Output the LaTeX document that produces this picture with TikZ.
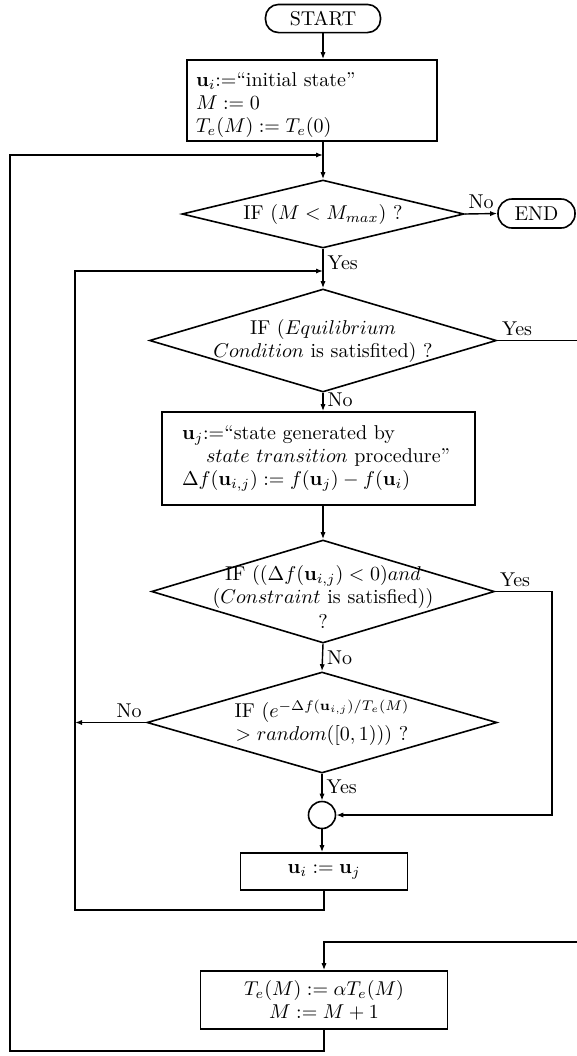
\documentclass[tikz,border=0pt]{standalone}
\usepackage{tikz}
\usetikzlibrary{arrows.meta,shapes.geometric}

\begin{document}
\begin{tikzpicture}[x=0.5pt, y=-0.5pt,
    every node/.style={font=\fontsize{10}{11.5}\selectfont},
    box/.style={draw, rectangle, line width=0.8pt},
    term/.style={draw, rectangle, rounded corners=6.5pt, line width=0.8pt, minimum height=13.5pt},
    test/.style={draw, diamond, aspect=3.4, inner sep=-8pt, align=center, line width=0.8pt},
    lbl/.style={inner sep=2pt},
    flow/.style={line width=0.7pt},
    >={Latex[length=3.5pt,width=2.6pt]}]
  \useasboundingbox (0,0) rectangle (577,1056);
  % steps
  \node[term, minimum width=57.5pt] (start) at (323,18.5) {START};
  \node[box, align=left, text width=116pt, inner xsep=4.5pt, inner ysep=1.2pt, minimum height=40.5pt] (init) at (312,100.5)
    {\rule{0pt}{11.5pt}$\mathbf{u}_i{:=}$``initial state''\\ $M := 0$\\ $T_e(M) := T_e(0)$};
  \node[test, minimum width=141pt, minimum height=34pt] (d1) at (323,214) {IF ($M < M_{max}$) ?};
  \node[term, minimum width=38.5pt, minimum height=14.5pt, rounded corners=7pt] (end) at (536.5,213.5) {END};
  \node[test, minimum width=173.5pt, minimum height=51.5pt] (d2) at (323,340.5)
    {IF ($Equilibrium$\\ $Condition$ is satisfited) ?};
  \node[box, align=left, text width=136.5pt, inner xsep=10pt, minimum height=46.5pt] (gen) at (318.5,458.5)
    {$\mathbf{u}_j{:=}$``state generated by\\ \hspace*{12pt}$state\ transition$ procedure''\\
     $\Delta f(\mathbf{u}_{i,j}) := f(\mathbf{u}_j) - f(\mathbf{u}_i)$};
  \node[test, minimum width=171.5pt, minimum height=51.5pt] (d3) at (323,591.5)
    {\rule{0pt}{12.5pt}IF (($\Delta f(\mathbf{u}_{i,j}) < 0$)$and$\\ ($Constraint$ is satisfied))\\[1pt] ?};
  \node[test, minimum width=175pt, minimum height=50.5pt] (d4) at (322,722.5)
    {IF ($e^{-\Delta f(\mathbf{u}_{i,j})/T_e(M)}$\\ $> random([0,1))$) ?};
  \node[draw, circle, minimum size=13.5pt, inner sep=0pt, line width=0.8pt] (join) at (322,815) {};
  \node[box, minimum width=83.5pt, minimum height=18.5pt] (upd) at (324,871.5) {$\mathbf{u}_i := \mathbf{u}_j$};
  \node[box, align=center, minimum width=123.5pt, minimum height=29pt] (cool) at (324,1000)
    {$T_e(M) := \alpha T_e(M)$\\ $M := M+1$};
  % helper points
  \coordinate (j1) at (323,155);
  \coordinate (j2) at (323,271);
  \coordinate (ox) at (10,0);
  \coordinate (lx) at (75,0);
  \coordinate (rr) at (552,0);
  \coordinate (rx) at (600,0);
  \coordinate (entry) at (324,942);
  % main line
  \draw[flow,->] (start) -- (start |- init.north);
  \draw[flow,->] (init.south -| d1) -- (d1.north);
  \draw[flow,->] (d1.east) -- node[lbl, above] {No} (end.west);
  \draw[flow,->] (d1.south) -- node[lbl, right, pos=0.35] {Yes} (d2.north);
  \draw[flow,->] (d2.south) -- node[lbl, right, pos=0.4] {No} (d2.south |- gen.north);
  \draw[flow,->] (d2.south |- gen.south) -- (d3.north);
  \draw[flow,->] (d3.south) -- node[lbl, right] {No} (d4.north);
  \draw[flow,->] (d4.south) -- node[lbl, right] {Yes} (join.north);
  \draw[flow,->] (join.south) -- (join.south |- upd.north);
  % branches
  \draw[flow,->] (d2.east) -- node[lbl, above right, pos=0] {Yes} (d2.east -| rx) |- (entry) -- (cool.north);
  \draw[flow,->] (d3.east) -- node[lbl, above right, pos=0] {Yes} (d3.east -| rr) |- (join.east);
  \draw[flow,->] (d4.west) -- node[lbl, above left, pos=0] {No} (d4.west -| lx);
  % loops
  \draw[flow,->] (upd.south) -- ++(0,19) -| (lx |- j2) -- (j2);
  \draw[flow,->] (cool.south) -- ++(0,21) -| (ox |- j1) -- (j1);
\end{tikzpicture}
\end{document}
